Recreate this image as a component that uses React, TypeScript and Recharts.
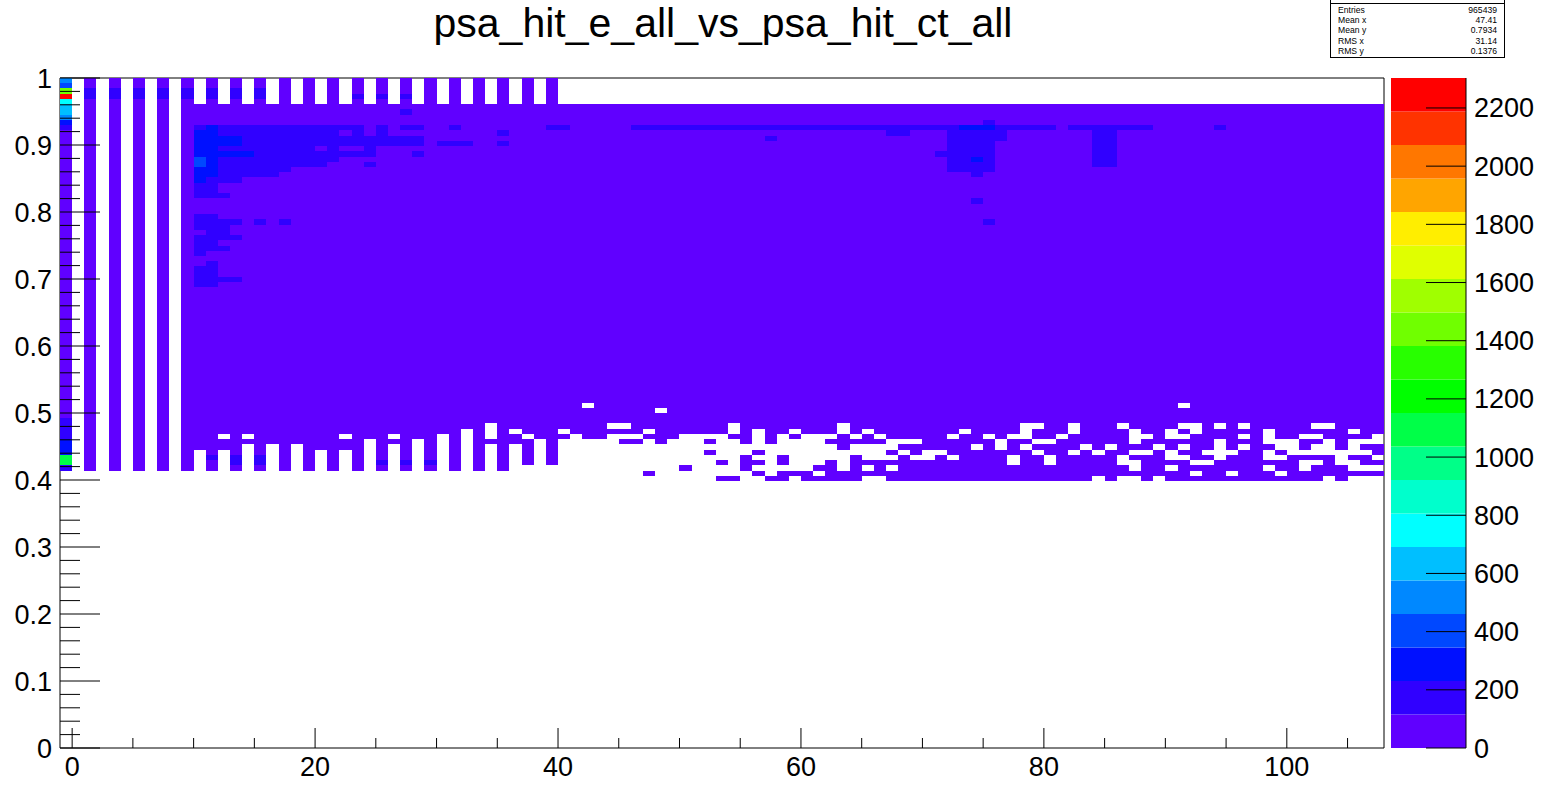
import { BarChart, Bar, ComposedChart, Scatter, XAxis, YAxis, ReferenceLine } from 'recharts'

// ─── Labels ──────────────────────────────────────────────────────────
const TITLE = 'psa_hit_e_all_vs_psa_hit_ct_all'
const STATS = [
  ['Entries', '965439', 10],
  ['Mean x', '47.41', 20],
  ['Mean y', '0.7934', 30],
  ['RMS x', '31.14', 41],
  ['RMS y', '0.1376', 51],
] as const

// ─── Axes ────────────────────────────────────────────────────────────
const X_TICKS = [0, 5, 10, 15, 20, 25, 30, 35, 40, 45, 50, 55, 60, 65, 70, 75, 80, 85, 90, 95, 100, 105]
const X_LABELS = [0, 20, 40, 60, 80, 100]
const Y_TICKS = [
  0, 0.02, 0.04, 0.06, 0.08, 0.1, 0.12, 0.14, 0.16, 0.18, 0.2, 0.22, 0.24, 0.26, 0.28, 0.3, 0.32, 0.34, 0.36, 0.38,
  0.4, 0.42, 0.44, 0.46, 0.48, 0.5, 0.52, 0.54, 0.56, 0.58, 0.6, 0.62, 0.64, 0.66, 0.68, 0.7, 0.72, 0.74, 0.76, 0.78,
  0.8, 0.82, 0.84, 0.86, 0.88, 0.9, 0.92, 0.94, 0.96, 0.98, 1,
]
const Y_LABELS = [0, 0.1, 0.2, 0.3, 0.4, 0.5, 0.6, 0.7, 0.8, 0.9, 1]
const Z_TICKS = [0, 200, 400, 600, 800, 1000, 1200, 1400, 1600, 1800, 2000, 2200]
const Z_MAX = 2303

// 20 contour bands, bottom to top
const PALETTE = [
  '#6000ff', '#3000ff', '#0010ff', '#0048ff', '#0088ff', '#00bfff', '#00ffff', '#00ffcc', '#00ff88', '#00ff48',
  '#00ff00', '#28ff00', '#70ff00', '#a0ff00', '#e0ff00', '#ffee00', '#ffa500', '#ff7700', '#ff3300', '#ff0000',
]

// ─── Histogram: 128 rows on y, 1 unit wide bins on x ─────────────────
const ROW_COUNT = 128
const STRIPE_BINS = [1, 3, 5, 7]
const TOP_ODD_BINS = [9, 11, 13, 15, 17, 19, 21, 23, 25, 27, 29, 31, 33, 35, 37, 39]

// first bin (x = -1): [row from, row to, level]
const FIRST_BIN_LEVELS: [number, number, number][] = [
  [53, 53, 1], [54, 55, 9], [56, 58, 2], [59, 62, 1], [63, 117, 0], [118, 118, 1], [119, 119, 2], [120, 120, 4],
  [121, 122, 5], [123, 123, 6], [124, 124, 19], [125, 125, 12], [126, 126, 3], [127, 127, 4],
]

// empty bins inside the filled block: [row, [x from, x to]...]
const EVEN = (a: number, b: number) => [a, b] as [number, number]
const EMPTY_BINS: [number, [number, number][]][] = [
  [51, [EVEN(9, 52), EVEN(55, 56), EVEN(59, 59), EVEN(65, 66), EVEN(84, 84), EVEN(86, 87), EVEN(89, 89), EVEN(103, 103), EVEN(105, 107)]],
  [52, [EVEN(9, 46), EVEN(48, 55), EVEN(57, 57), EVEN(61, 61), EVEN(92, 92), EVEN(95, 95), EVEN(99, 99)]],
  [53, [EVEN(10, 10), EVEN(12, 12), EVEN(14, 14), EVEN(16, 16), EVEN(18, 18), EVEN(20, 20), EVEN(22, 22), EVEN(24, 24), EVEN(26, 26), EVEN(28, 28), EVEN(30, 30), EVEN(32, 32), EVEN(34, 34), EVEN(36, 49), EVEN(51, 54), EVEN(56, 60), EVEN(63, 63), EVEN(65, 65), EVEN(67, 67), EVEN(87, 87), EVEN(90, 90), EVEN(98, 98), EVEN(101, 101), EVEN(105, 107)]],
  [54, [EVEN(10, 10), EVEN(12, 12), EVEN(14, 14), EVEN(16, 16), EVEN(18, 18), EVEN(20, 20), EVEN(22, 22), EVEN(24, 24), EVEN(26, 26), EVEN(28, 28), EVEN(30, 30), EVEN(32, 32), EVEN(34, 34), EVEN(36, 36), EVEN(38, 38), EVEN(40, 52), EVEN(54, 54), EVEN(57, 57), EVEN(59, 61), EVEN(63, 63), EVEN(77, 77), EVEN(80, 80), EVEN(86, 87), EVEN(92, 93), EVEN(101, 102), EVEN(104, 105)]],
  [55, [EVEN(10, 10), EVEN(12, 12), EVEN(14, 14), EVEN(16, 16), EVEN(18, 18), EVEN(20, 20), EVEN(22, 22), EVEN(24, 24), EVEN(26, 26), EVEN(28, 28), EVEN(30, 30), EVEN(32, 32), EVEN(34, 34), EVEN(36, 36), EVEN(38, 38), EVEN(40, 54), EVEN(56, 57), EVEN(59, 63), EVEN(65, 67), EVEN(69, 70), EVEN(72, 72), EVEN(77, 77), EVEN(80, 80), EVEN(86, 86), EVEN(90, 91), EVEN(94, 94), EVEN(98, 99), EVEN(104, 104), EVEN(107, 107)]],
  [56, [EVEN(10, 10), EVEN(12, 12), EVEN(14, 14), EVEN(16, 16), EVEN(18, 18), EVEN(20, 20), EVEN(22, 22), EVEN(24, 24), EVEN(26, 26), EVEN(28, 28), EVEN(30, 30), EVEN(32, 32), EVEN(34, 34), EVEN(36, 36), EVEN(38, 38), EVEN(40, 51), EVEN(53, 55), EVEN(57, 66), EVEN(68, 68), EVEN(70, 71), EVEN(79, 79), EVEN(82, 82), EVEN(84, 84), EVEN(87, 88), EVEN(90, 90), EVEN(93, 95), EVEN(98, 98), EVEN(100, 106)]],
  [57, [EVEN(14, 14), EVEN(16, 16), EVEN(18, 18), EVEN(24, 24), EVEN(26, 26), EVEN(28, 28), EVEN(30, 30), EVEN(32, 32), EVEN(34, 34), EVEN(36, 36), EVEN(38, 38), EVEN(40, 62), EVEN(64, 67), EVEN(74, 74), EVEN(76, 76), EVEN(78, 78), EVEN(83, 83), EVEN(85, 85), EVEN(89, 89), EVEN(91, 91), EVEN(94, 94), EVEN(96, 96), EVEN(99, 100), EVEN(102, 103), EVEN(105, 105)]],
  [58, [EVEN(24, 24), EVEN(28, 28), EVEN(30, 30), EVEN(32, 32), EVEN(38, 38), EVEN(40, 44), EVEN(47, 47), EVEN(49, 51), EVEN(53, 54), EVEN(56, 56), EVEN(58, 61), EVEN(67, 69), EVEN(76, 76), EVEN(79, 80), EVEN(87, 87), EVEN(94, 94), EVEN(98, 100), EVEN(103, 103), EVEN(105, 107)]],
  [59, [EVEN(12, 12), EVEN(14, 14), EVEN(22, 22), EVEN(26, 26), EVEN(30, 30), EVEN(32, 32), EVEN(34, 34), EVEN(37, 37), EVEN(41, 41), EVEN(44, 46), EVEN(50, 53), EVEN(56, 56), EVEN(58, 58), EVEN(60, 62), EVEN(64, 64), EVEN(66, 66), EVEN(72, 72), EVEN(75, 75), EVEN(77, 78), EVEN(81, 81), EVEN(87, 88), EVEN(90, 91), EVEN(96, 96), EVEN(98, 98), EVEN(101, 102), EVEN(107, 107)]],
  [60, [EVEN(32, 32), EVEN(34, 34), EVEN(36, 36), EVEN(40, 40), EVEN(47, 47), EVEN(54, 54), EVEN(56, 56), EVEN(59, 59), EVEN(63, 63), EVEN(65, 65), EVEN(73, 73), EVEN(78, 78), EVEN(82, 82), EVEN(87, 87), EVEN(90, 90), EVEN(92, 92), EVEN(98, 98), EVEN(105, 105)]],
  [61, [EVEN(34, 34), EVEN(44, 45), EVEN(54, 54), EVEN(63, 63), EVEN(78, 79), EVEN(82, 82), EVEN(86, 86), EVEN(91, 92), EVEN(94, 94), EVEN(96, 96), EVEN(102, 103)]],
  [64, [EVEN(48, 48)]],
  [65, [EVEN(42, 42), EVEN(91, 91)]],
]

// raised bins: [row, x from, x to, level]
const RAISED_RUNS: [number, number, number, number][] = [
  [125, 1, 1, 1], [125, 3, 3, 1], [125, 5, 5, 1], [125, 7, 7, 1], [125, 9, 9, 1], [125, 11, 11, 1], [125, 13, 13, 1], [125, 15, 15, 1],
  [124, 1, 1, 1], [124, 3, 3, 1], [124, 5, 5, 1], [124, 7, 7, 1], [124, 9, 9, 1], [124, 11, 11, 1], [124, 13, 13, 1], [124, 15, 15, 1],
  [124, 23, 23, 1], [124, 25, 25, 1], [124, 27, 27, 1],
  [121, 27, 27, 1], [119, 75, 75, 1],
  [118, 10, 10, 1], [118, 11, 11, 2], [118, 12, 23, 1], [118, 25, 25, 1], [118, 27, 28, 1], [118, 31, 31, 1], [118, 39, 40, 1],
  [118, 46, 72, 1], [118, 73, 75, 2], [118, 76, 80, 1], [118, 82, 88, 1], [118, 94, 94, 1],
  [117, 10, 11, 2], [117, 12, 21, 1], [117, 23, 23, 1], [117, 25, 25, 1], [117, 35, 35, 1], [117, 67, 68, 1], [117, 72, 76, 1], [117, 84, 85, 1],
  [116, 10, 13, 2], [116, 14, 28, 1], [116, 57, 57, 1], [116, 72, 76, 1], [116, 84, 85, 1],
  [115, 10, 13, 2], [115, 14, 28, 1], [115, 30, 32, 1], [115, 35, 35, 1], [115, 72, 75, 1], [115, 84, 85, 1],
  [114, 10, 11, 2], [114, 12, 19, 1], [114, 21, 21, 1], [114, 24, 24, 1], [114, 72, 75, 1], [114, 84, 85, 1],
  [113, 10, 14, 2], [113, 15, 24, 1], [113, 28, 28, 1], [113, 71, 75, 1], [113, 84, 85, 1],
  [112, 10, 10, 3], [112, 11, 11, 2], [112, 12, 21, 1], [112, 72, 73, 1], [112, 74, 74, 2], [112, 75, 75, 1], [112, 84, 85, 1],
  [111, 10, 10, 3], [111, 11, 11, 2], [111, 12, 20, 1], [111, 24, 24, 1], [111, 72, 75, 1], [111, 84, 85, 1],
  [110, 10, 11, 2], [110, 12, 17, 1], [110, 72, 75, 1],
  [109, 10, 11, 2], [109, 12, 16, 1], [109, 74, 74, 1],
  [108, 10, 10, 2], [108, 11, 13, 1],
  [107, 10, 11, 1], [106, 10, 11, 1], [105, 10, 12, 1], [104, 74, 74, 1],
  [101, 10, 11, 1], [100, 10, 13, 1], [100, 15, 15, 1], [100, 17, 17, 1], [100, 75, 75, 1],
  [99, 10, 12, 1], [98, 11, 12, 1], [97, 10, 13, 1], [96, 10, 11, 1], [95, 10, 12, 1], [94, 10, 10, 1],
  [92, 11, 11, 1], [91, 10, 11, 1], [90, 10, 11, 1], [89, 10, 13, 1], [88, 10, 11, 1],
  [55, 11, 11, 1], [55, 13, 13, 1], [55, 15, 15, 1], [54, 13, 13, 1], [54, 15, 15, 1], [54, 25, 25, 1], [54, 27, 27, 1], [54, 29, 29, 1],
]

// ─── Build the table the Scatter reads ───────────────────────────────
type BinPoint = { x: number; y: number; level: number }

function buildBins(): BinPoint[] {
  const empty = new Map<number, [number, number][]>(EMPTY_BINS)
  const isEmpty = (row: number, x: number) => (empty.get(row) ?? []).some(([a, b]) => x >= a && x <= b)
  const levelOf = (row: number, x: number) => {
    const hit = RAISED_RUNS.find(([r, a, b]) => r === row && x >= a && x <= b)
    return hit ? hit[3] : 0
  }
  const bins: BinPoint[] = []
  const add = (row: number, x: number, level: number) => bins.push({ x: x + 0.5, y: (row + 0.5) / ROW_COUNT, level })

  FIRST_BIN_LEVELS.forEach(([from, to, level]) => {
    for (let row = from; row <= to; row++) add(row, -1, level)
  })
  for (let row = 53; row < ROW_COUNT; row++) {
    STRIPE_BINS.forEach((x) => add(row, x, levelOf(row, x)))
  }
  for (let row = 123; row < ROW_COUNT; row++) {
    TOP_ODD_BINS.forEach((x) => add(row, x, levelOf(row, x)))
  }
  for (let row = 51; row <= 122; row++) {
    for (let x = 9; x <= 107; x++) {
      if (!isEmpty(row, x)) add(row, x, levelOf(row, x))
    }
  }
  return bins
}

const BINS = buildBins()
const COLOR_BAR_ROW = [
  { name: 'z', ...Object.fromEntries(PALETTE.map((_, i) => [`band${i}`, Z_MAX / PALETTE.length])) },
]

// ─── Layout ──────────────────────────────────────────────────────────
const PLOT_LEFT = 60
const PLOT_RIGHT = 1384
const PLOT_TOP = 78
const PLOT_BOTTOM = 748
const BIN_W = (PLOT_RIGHT - PLOT_LEFT) / 109
const BIN_H = (PLOT_BOTTOM - PLOT_TOP) / ROW_COUNT
const FONT = '"Liberation Sans", Arial, sans-serif'
const LABEL_SIZE = 27

// ─── Shapes and ticks ────────────────────────────────────────────────
function BinCell(props: any) {
  const { cx, cy, payload } = props
  return (
    <rect
      x={cx - BIN_W / 2}
      y={cy - BIN_H / 2}
      width={BIN_W}
      height={BIN_H}
      fill={PALETTE[payload.level]}
      shapeRendering="crispEdges"
    />
  )
}

function XTick({ x, y, payload }: any) {
  const major = X_LABELS.includes(payload.value)
  return (
    <g>
      <line x1={x} x2={x} y1={y} y2={y - (major ? 20 : 10)} stroke="#000" />
      {major && (
        <text x={x} y={y + 28} textAnchor="middle" fontSize={LABEL_SIZE} fontFamily={FONT} fill="#000">
          {payload.value}
        </text>
      )}
    </g>
  )
}

function YTick({ x, y, payload }: any) {
  const major = Y_LABELS.includes(payload.value)
  return (
    <g>
      <line x1={x} x2={x + (major ? 40 : 20)} y1={y} y2={y} stroke="#000" />
      {major && (
        <text x={x - 8} y={y + 9.5} textAnchor="end" fontSize={LABEL_SIZE} fontFamily={FONT} fill="#000">
          {payload.value}
        </text>
      )}
    </g>
  )
}

function ZTick({ x, y, payload }: any) {
  return (
    <g>
      <line x1={x} x2={x - 40} y1={y} y2={y} stroke="#000" />
      <text x={x + 8} y={y + 9.5} textAnchor="start" fontSize={LABEL_SIZE} fontFamily={FONT} fill="#000">
        {payload.value}
      </text>
    </g>
  )
}

function StatsBox() {
  return (
    <div
      style={{
        position: 'absolute',
        left: 1330,
        top: -1,
        width: 175,
        height: 59,
        boxSizing: 'border-box',
        border: '1px solid #000',
        background: '#fff',
        fontFamily: FONT,
        fontSize: 8.6,
        color: '#000',
        overflow: 'hidden',
      }}
    >
      <div style={{ position: 'absolute', left: 0, right: 0, top: 3, height: 1, background: '#000' }} />
      {STATS.map(([name, value, y]) => (
        <div key={name} style={{ position: 'absolute', left: 7, right: 7, top: y - 5, lineHeight: '10px', display: 'flex', justifyContent: 'space-between' }}>
          <span>{name}</span>
          <span>{value}</span>
        </div>
      ))}
    </div>
  )
}

export default function App() {
  return (
    <div style={{ position: 'absolute', left: 0, top: 0, width: 1548, height: 790, overflow: 'hidden', background: '#fff' }}>
      <div
        style={{
          position: 'absolute',
          left: 0,
          width: 1446,
          top: 0,
          textAlign: 'center',
          fontFamily: FONT,
          fontSize: 41,
          lineHeight: '46px',
          color: '#000',
        }}
      >
        {TITLE}
      </div>

      <div style={{ position: 'absolute', left: 0, top: 0 }}>
        <ComposedChart
          width={1548}
          height={790}
          margin={{ top: PLOT_TOP, right: 1548 - PLOT_RIGHT, bottom: 0, left: 0 }}
        >
          <Scatter data={BINS} dataKey="y" shape={BinCell} isAnimationActive={false} />
          <XAxis
            type="number"
            dataKey="x"
            domain={[-1, 108]}
            ticks={X_TICKS}
            interval={0}
            height={790 - PLOT_BOTTOM}
            tick={XTick}
            tickLine={false}
            tickSize={0}
            tickMargin={0}
            stroke="#000"
            allowDataOverflow
          />
          <YAxis
            type="number"
            dataKey="y"
            domain={[0, 1]}
            ticks={Y_TICKS}
            interval={0}
            width={PLOT_LEFT}
            tick={YTick}
            tickLine={false}
            tickSize={0}
            tickMargin={0}
            stroke="#000"
            allowDataOverflow
          />
          <ReferenceLine y={1} stroke="#000" />
          <ReferenceLine x={108} stroke="#000" />
        </ComposedChart>
      </div>

      <div style={{ position: 'absolute', left: 1391, top: 0 }}>
        <BarChart
          width={157}
          height={790}
          data={COLOR_BAR_ROW}
          barCategoryGap={0}
          barGap={0}
          margin={{ top: PLOT_TOP, right: 0, bottom: 0, left: 0 }}
        >
          <XAxis dataKey="name" type="category" height={790 - PLOT_BOTTOM} tick={false} tickLine={false} axisLine={false} />
          <YAxis
            orientation="right"
            type="number"
            domain={[0, Z_MAX]}
            ticks={Z_TICKS}
            interval={0}
            width={82}
            tick={ZTick}
            tickLine={false}
            tickSize={0}
            tickMargin={0}
            stroke="#000"
            allowDataOverflow
          />
          {PALETTE.map((color, i) => (
            <Bar key={color} dataKey={`band${i}`} stackId="z" fill={color} isAnimationActive={false} />
          ))}
        </BarChart>
      </div>

      <StatsBox />
    </div>
  )
}
